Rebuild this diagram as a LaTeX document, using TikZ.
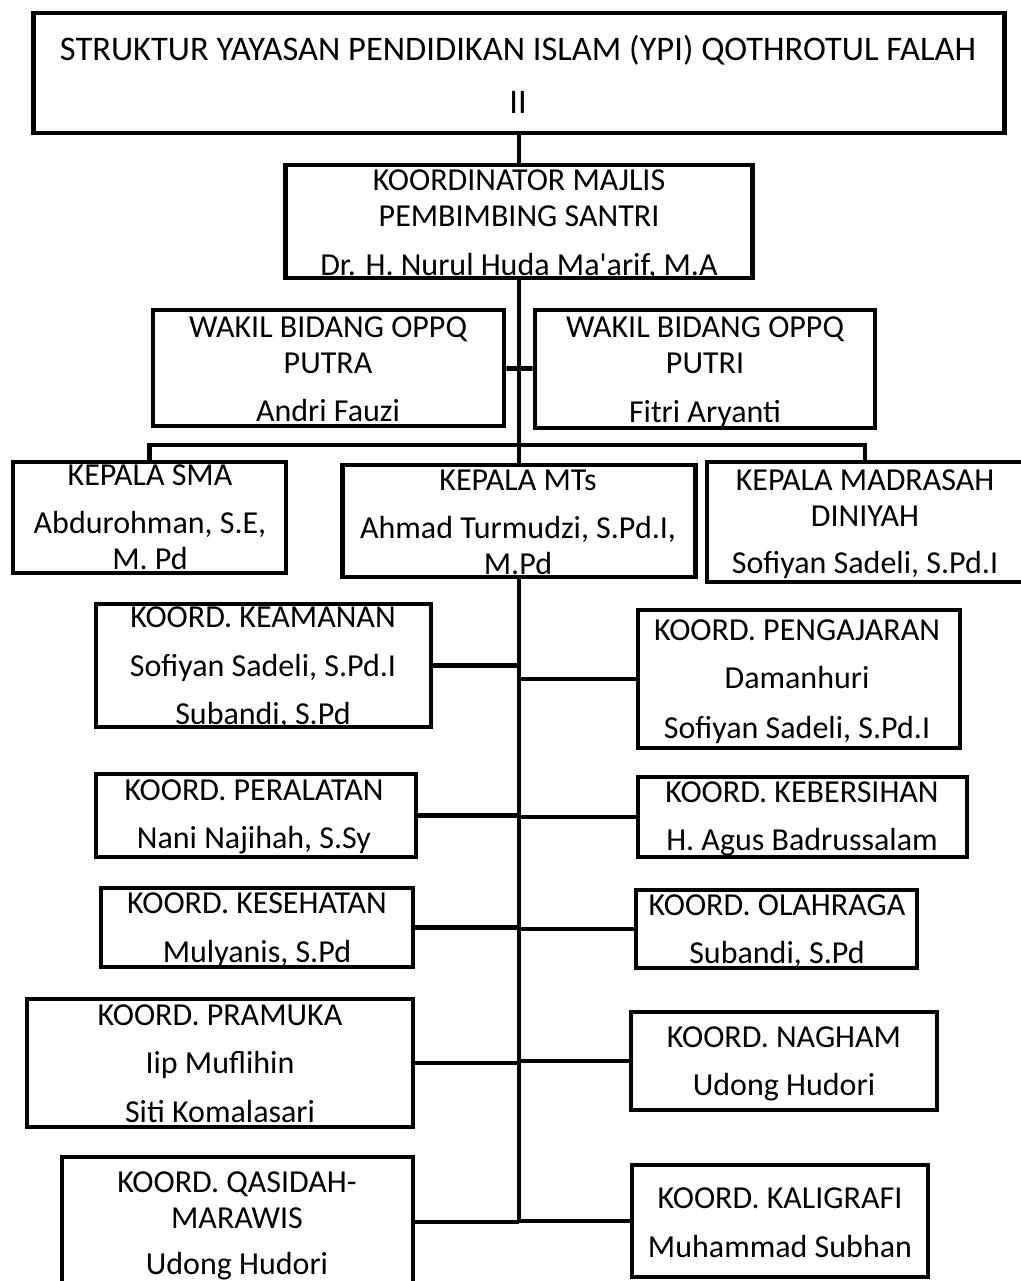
\documentclass[tikz,border=0pt]{standalone}
\usepackage{fontspec}
\setmainfont{Carlito}

\begin{document}
\begin{tikzpicture}[
  x=1pt, y=-1pt,
  unit/.style 2 args={
    rectangle,
    draw,
    line width=4.8pt,
    inner sep=0pt,
    minimum width=#1,
    minimum height=#2
  },
  txt/.style={
    anchor=north,
    inner sep=0pt,
    align=center,
    font=\fontsize{32}{36}\selectfont
  },
  link/.style={
    line width=4.8pt
  }
]
\useasboundingbox (0,0) rectangle (1020,1281);

% Top of the structure
\node[unit={971}{120}] (title) at (519,73) {};
\node[unit={467}{113}] (koord) at (519,221.5) {};
\node[unit={351}{116}] (putra) at (328.5,368) {};
\node[unit={340}{118}] (putri) at (705,369) {};

% Heads of schools
\node[unit={273}{111}] (sma) at (149.5,517.5) {};
\node[unit={353}{112}] (mts) at (519,521) {};
\node[unit={316}{120}] (diniyah) at (865,522) {};

% Coordinators, left column
\node[unit={335}{123}] (keamanan) at (263.5,665.5) {};
\node[unit={320}{83}] (peralatan) at (256,815.5) {};
\node[unit={312}{79}] (kesehatan) at (257,927.5) {};
\node[unit={386}{128}] (pramuka) at (220,1063) {};
\node[unit={351}{130}] (qasidah) at (237.5,1222) {};

% Coordinators, right column
\node[unit={322}{138}] (pengajaran) at (799,679) {};
\node[unit={329}{80}] (kebersihan) at (802.5,817) {};
\node[unit={281}{78}] (olahraga) at (776.5,929) {};
\node[unit={306}{98}] (nagham) at (784,1061) {};
\node[unit={296}{112}] (kaligrafi) at (780,1221) {};

% Texts
\node[txt, font=\fontsize{34.5}{53}\selectfont] (t-title) at (518,35) {STRUKTUR YAYASAN PENDIDIKAN ISLAM (YPI) QOTHROTUL FALAH\\II};
\node[txt] (t-koord) at (519,170) {KOORDINATOR MAJLIS\\PEMBIMBING SANTRI\\[13pt]Dr. H. Nurul Huda Ma\textquotesingle arif, M.A};
\node[txt] (t-putra) at (328,317) {WAKIL BIDANG OPPQ\\PUTRA\\[12pt]Andri Fauzi};
\node[txt] (t-putri) at (705,317) {WAKIL BIDANG OPPQ\\PUTRI\\[13pt]Fitri Aryanti};
\node[txt] (t-sma) at (150,465) {KEPALA SMA\\[12pt]Abdurohman, S.E,\\M. Pd};
\node[txt] (t-mts) at (518,470) {KEPALA MTs\\[12pt]Ahmad Turmudzi, S.Pd.I,\\M.Pd};
\node[txt] (t-diniyah) at (865,470) {KEPALA MADRASAH\\DINIYAH\\[11pt]Sofiyan Sadeli, S.Pd.I};
\node[txt] (t-keamanan) at (263,607) {KOORD. KEAMANAN\\[13pt]Sofiyan Sadeli, S.Pd.I\\[12pt]Subandi, S.Pd};
\node[txt] (t-pengajaran) at (797,620) {KOORD. PENGAJARAN\\[12pt]Damanhuri\\[14pt]Sofiyan Sadeli, S.Pd.I};
\node[txt] (t-peralatan) at (254,780) {KOORD. PERALATAN\\[12pt]Nani Najihah, S.Sy};
\node[txt] (t-kebersihan) at (802,782) {KOORD. KEBERSIHAN\\[12pt]H. Agus Badrussalam};
\node[txt] (t-kesehatan) at (257,893) {KOORD. KESEHATAN\\[13pt]Mulyanis, S.Pd};
\node[txt] (t-olahraga) at (777,895) {KOORD. OLAHRAGA\\[12pt]Subandi, S.Pd};
\node[txt] (t-pramuka) at (220,1005) {KOORD. PRAMUKA\\[12pt]Iip Muflihin\\[13pt]Siti Komalasari};
\node[txt] (t-nagham) at (784,1027) {KOORD. NAGHAM\\[12pt]Udong Hudori};
\node[txt] (t-qasidah) at (237,1172) {KOORD. QASIDAH-\\MARAWIS\\[10pt]Udong Hudori};
\node[txt] (t-kaligrafi) at (780,1188) {KOORD. KALIGRAFI\\[13pt]Muhammad Subhan};

% Main line and branches
\coordinate (bar) at (519,445);
\coordinate (spineend) at (519,1222);
\draw[link] (title) -- (koord);
\draw[link] (koord) -- (mts);
\draw[link] (mts) -- (spineend);
\draw[link] (putra) -- (putri);
\draw[link] (sma.north) |- (bar) -| (diniyah.north);

\draw[link] (keamanan.east) -- (keamanan.east -| spineend);
\draw[link] (peralatan.east) -- (peralatan.east -| spineend);
\draw[link] (kesehatan.east) -- (kesehatan.east -| spineend);
\draw[link] (pramuka.east) -- (pramuka.east -| spineend);
\draw[link] (qasidah.east) -- (spineend);

\draw[link] (pengajaran.west) -- (pengajaran.west -| spineend);
\draw[link] (kebersihan.west) -- (kebersihan.west -| spineend);
\draw[link] (olahraga.west) -- (olahraga.west -| spineend);
\draw[link] (nagham.west) -- (nagham.west -| spineend);
\draw[link] (kaligrafi.west) -- (kaligrafi.west -| spineend);
\end{tikzpicture}
\end{document}
